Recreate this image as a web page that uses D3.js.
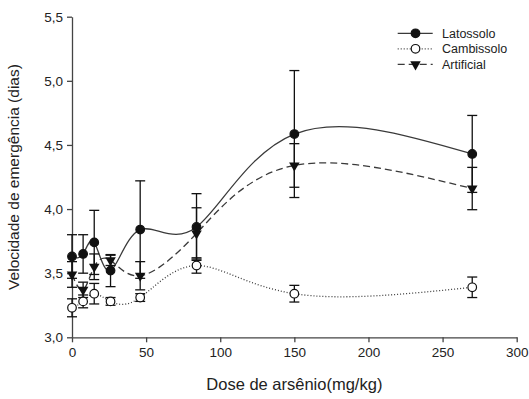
<!DOCTYPE html>
<html>
  <head>
    <meta charset="utf-8">
    <style>
      body { margin: 0; background: #fff; }
      text { font-family: "Liberation Sans", Arial, sans-serif; fill: #222; }
    </style>
  </head>
  <body>
    <script src="https://d3js.org/d3.v7.min.js"></script>
    <script>
      const doses = [0, 7.5, 15, 26, 46, 84, 150, 270];

      const latossolo = [3.63, 3.65, 3.74, 3.52, 3.84, 3.86, 4.585, 4.43];
      const latossoloErr = [0.17, 0.15, 0.25, 0.125, 0.38, 0.26, 0.495, 0.30];

      const cambissolo = [3.23, 3.28, 3.34, 3.28, 3.31, 3.56, 3.34, 3.39];
      const cambissoloErr = [0.07, 0.05, 0.08, 0.03, 0.03, 0.06, 0.065, 0.08];

      const artificial = [3.49, 3.37, 3.55, 3.60, 3.48, 3.81, 4.34, 4.16];
      const artificialErr = [0.10, 0.06, 0.10, 0.04, 0.11, 0.20, 0.17, 0.165];

      const xTicks = [0, 50, 100, 150, 200, 250, 300];
      const yTicks = [3.0, 3.5, 4.0, 4.5, 5.0, 5.5];

      const series = [
        { name: 'Latossolo', values: latossolo, err: latossoloErr, dash: null, marker: 'filled' },
        { name: 'Cambissolo', values: cambissolo, err: cambissoloErr, dash: '1,2', marker: 'open' },
        { name: 'Artificial', values: artificial, err: artificialErr, dash: '7,4', marker: 'triangle' }
      ];

      const width = 529, height = 399;
      const margin = { top: 16.7, right: 12.3, bottom: 61.7, left: 72 };

      const svg = d3.select('body').append('svg')
        .attr('width', width)
        .attr('height', height);

      const x = d3.scaleLinear()
        .domain([0, 300])
        .range([margin.left, width - margin.right]);

      const y = d3.scaleLinear()
        .domain([3, 5.5])
        .range([height - margin.bottom, margin.top]);

      const fmt = d => d3.format('.1f')(d).replace('.', ',');

      // axes
      const xAxis = svg.append('g')
        .attr('transform', `translate(0,${y(3)})`)
        .call(d3.axisBottom(x).tickValues(xTicks).tickSize(5).tickSizeOuter(0).tickPadding(5));

      const yAxis = svg.append('g')
        .attr('transform', `translate(${x(0)},0)`)
        .call(d3.axisLeft(y).tickValues(yTicks).tickFormat(fmt).tickSize(5).tickSizeOuter(0).tickPadding(4));

      [xAxis, yAxis].forEach(a => {
        a.select('.domain').attr('stroke', '#444').attr('stroke-width', 1.3);
        a.selectAll('.tick line').attr('stroke', '#444').attr('stroke-width', 1.3);
        a.selectAll('.tick text')
          .attr('font-size', 13.5)
          .attr('font-family', '"Liberation Sans", Arial, sans-serif')
          .attr('fill', '#333');
      });

      svg.append('text')
        .attr('x', x(150))
        .attr('y', 390)
        .attr('text-anchor', 'middle')
        .attr('font-size', 16.5)
        .text('Dose de arsênio(mg/kg)');

      svg.append('text')
        .attr('transform', `translate(19,${(y(3) + y(5.5)) / 2}) rotate(-90)`)
        .attr('text-anchor', 'middle')
        .attr('font-size', 15.5)
        .text('Velocidade de emergência (dias)');

      const line = d3.line()
        .x((d, i) => x(doses[i]))
        .y(d => y(d))
        .curve(d3.curveNatural);

      // lines
      series.forEach(s => {
        svg.append('path')
          .datum(s.values)
          .attr('d', line)
          .attr('fill', 'none')
          .attr('stroke', '#3a3a3a')
          .attr('stroke-width', 1.3)
          .attr('stroke-dasharray', s.dash);
      });

      // error bars
      const cap = 5;
      series.forEach(s => {
        const g = svg.append('g').attr('stroke', '#111').attr('stroke-width', 1.3);
        s.values.forEach((v, i) => {
          const cx = x(doses[i]);
          const y0 = y(v - s.err[i]), y1 = y(v + s.err[i]);
          g.append('line').attr('x1', cx).attr('x2', cx).attr('y1', y0).attr('y2', y1);
          g.append('line').attr('x1', cx - cap).attr('x2', cx + cap).attr('y1', y0).attr('y2', y0);
          g.append('line').attr('x1', cx - cap).attr('x2', cx + cap).attr('y1', y1).attr('y2', y1);
        });
      });

      const tri = d3.symbol().type(d3.symbolTriangle).size(48);

      function drawMarker(g, type, cx, cy) {
        if (type === 'triangle') {
          g.append('path')
            .attr('d', tri())
            .attr('transform', `translate(${cx},${cy}) rotate(180)`)
            .attr('fill', '#111');
        } else {
          g.append('circle')
            .attr('cx', cx).attr('cy', cy).attr('r', 4.3)
            .attr('fill', type === 'filled' ? '#111' : '#fff')
            .attr('stroke', '#111')
            .attr('stroke-width', 1.2);
        }
      }

      // markers
      series.forEach(s => {
        const g = svg.append('g');
        s.values.forEach((v, i) => drawMarker(g, s.marker, x(doses[i]), y(v)));
      });

      // legend
      const legend = svg.append('g');
      series.forEach((s, i) => {
        const ly = 33.3 + i * 15.5;
        legend.append('line')
          .attr('x1', 397.7).attr('x2', 432.7)
          .attr('y1', ly).attr('y2', ly)
          .attr('stroke', '#3a3a3a')
          .attr('stroke-width', 1.3)
          .attr('stroke-dasharray', s.dash);
        drawMarker(legend, s.marker, 415.5, ly);
        legend.append('text')
          .attr('x', 442)
          .attr('y', ly + 4.5)
          .attr('font-size', 12.5)
          .text(s.name);
      });
    </script>
  </body>
</html>
